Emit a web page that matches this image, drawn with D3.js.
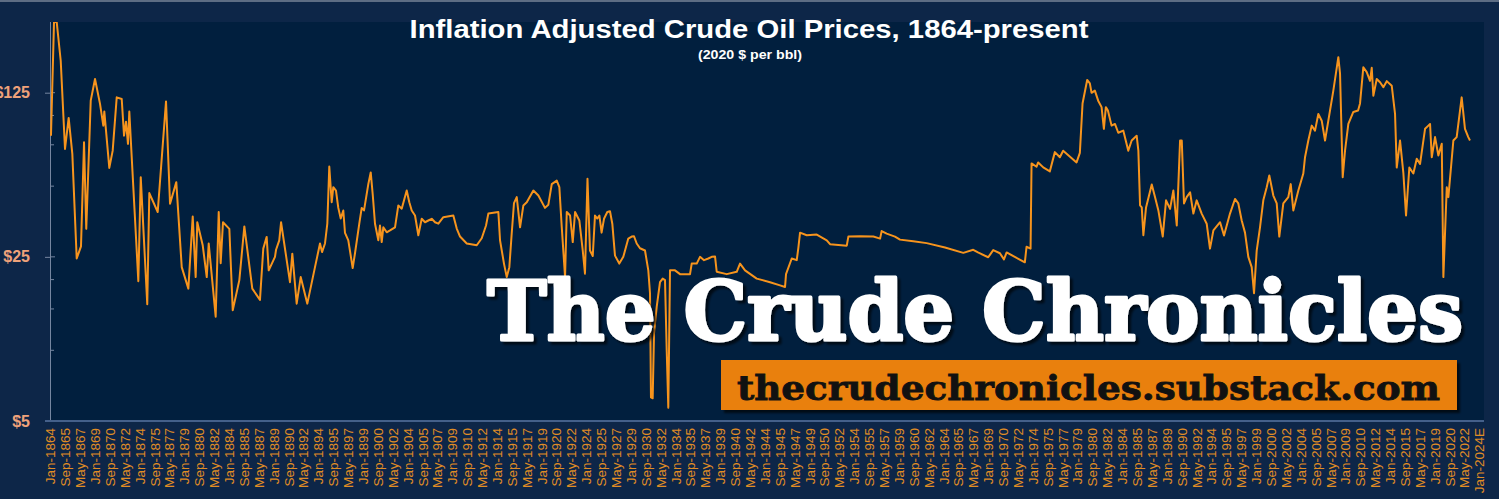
<!DOCTYPE html>
<html lang="en">

<head>
    <meta charset="utf-8">
    <title>Inflation Adjusted Crude Oil Prices</title>
    <script src="https://d3js.org/d3.v7.min.js"></script>
</head>
<style type="text/css">
    body {
        margin: 0;
        background: #0d2648;
    }

    .xlabel text {
        fill: #e08d25;
        font-family: "Liberation Sans", Arial, sans-serif;
        font-size: 13.5px;
    }

    .ylabel text {
        fill: #efa27a;
        font-family: "Liberation Sans", Arial, sans-serif;
        font-size: 16px;
        font-weight: bold;
    }

    .price {
        fill: none;
        stroke: #f7941d;
        stroke-width: 2px;
        stroke-linejoin: round;
    }
</style>

<body>
    <script>
        var width = 1499,
            height = 499;

        var margin = {left: 50, right: 15, top: 22, bottom: 78};

        var years = [
            1864.11, 1864.45, 1864.75, 1865.20, 1865.68, 1866.09, 1866.50, 1866.99, 1867.47, 1867.81,
            1868.06, 1868.56, 1869.04, 1869.60, 1869.97, 1870.08, 1870.64, 1871.02, 1871.47, 1872.03,
            1872.29, 1872.51, 1872.73, 1872.88, 1873.15, 1873.89, 1874.16, 1874.89, 1875.12, 1876.06,
            1876.99, 1877.44, 1878.14, 1878.75, 1879.49, 1879.98, 1880.31, 1880.49, 1881.10, 1881.55,
            1881.77, 1882.55, 1882.89, 1883.11, 1883.37, 1884.08, 1884.46, 1885.20, 1885.76, 1886.65,
            1887.51, 1887.88, 1888.26, 1888.49, 1889.19, 1889.31, 1889.67, 1889.87, 1890.87, 1891.13,
            1891.62, 1892.07, 1892.81, 1893.67, 1894.23, 1894.46, 1894.79, 1895.05, 1895.27, 1895.54,
            1895.72, 1896.02, 1896.28, 1896.55, 1896.84, 1897.03, 1897.40, 1897.89, 1898.15, 1898.63,
            1898.90, 1899.16, 1899.64, 1899.91, 1900.13, 1900.39, 1900.76, 1900.95, 1901.14, 1901.32,
            1901.70, 1902.07, 1902.63, 1903.00, 1903.38, 1903.94, 1904.23, 1904.50, 1904.87, 1905.24,
            1905.62, 1905.99, 1906.36, 1906.74, 1907.11, 1907.48, 1908.04, 1909.16, 1909.54, 1909.91,
            1910.66, 1911.78, 1912.34, 1912.82, 1913.08, 1913.46, 1914.20, 1914.39, 1914.83, 1915.14,
            1915.43, 1915.70, 1915.95, 1916.26, 1916.63, 1917.00, 1917.38, 1918.12, 1918.68, 1919.42,
            1919.80, 1920.18, 1920.74, 1921.03, 1921.30, 1921.67, 1921.86, 1922.23, 1922.53, 1922.79,
            1923.27, 1923.65, 1923.90, 1924.18, 1924.46, 1924.77, 1925.02, 1925.28, 1925.51, 1925.76,
            1926.03, 1926.40, 1926.70, 1926.96, 1927.26, 1927.74, 1928.19, 1928.75, 1929.13, 1929.39,
            1929.69, 1930.06, 1930.62, 1930.99, 1931.18, 1931.29, 1931.48, 1931.63, 1931.93, 1932.30,
            1932.60, 1932.86, 1933.05, 1933.23, 1933.42, 1933.98, 1934.54, 1935.66, 1935.85, 1936.41,
            1936.78, 1937.23, 1937.71, 1938.09, 1938.46, 1938.65, 1939.77, 1940.89, 1941.26, 1941.82,
            1943.13, 1944.62, 1945.74, 1946.30, 1946.41, 1947.05, 1947.61, 1947.79, 1947.98, 1948.73,
            1949.85, 1950.97, 1951.34, 1953.21, 1953.39, 1954.70, 1956.19, 1956.94, 1957.12, 1957.68,
            1958.61, 1959.17, 1960.66, 1962.16, 1964.21, 1966.26, 1967.37, 1967.90, 1969.05, 1969.61,
            1970.36, 1970.81, 1971.11, 1973.15, 1973.34, 1973.79, 1973.90, 1974.46, 1974.64, 1975.21,
            1975.95, 1976.51, 1977.07, 1977.44, 1978.94, 1979.31, 1979.61, 1980.13, 1980.43, 1980.62,
            1980.99, 1981.36, 1981.74, 1982.00, 1982.22, 1982.45, 1982.86, 1983.24, 1983.61, 1984.17,
            1984.73, 1985.11, 1985.67, 1985.86, 1986.05, 1986.24, 1986.42, 1986.72, 1987.36, 1987.73,
            1988.10, 1988.59, 1988.96, 1989.41, 1989.78, 1990.16, 1990.53, 1990.72, 1990.97, 1991.27,
            1991.65, 1992.02, 1992.39, 1992.95, 1993.51, 1993.88, 1994.26, 1995.01, 1995.45, 1996.12,
            1996.68, 1997.05, 1997.43, 1997.80, 1998.17, 1998.55, 1998.81, 1999.11, 1999.48, 1999.85,
            2000.23, 2000.52, 2000.97, 2001.35, 2001.64, 2002.09, 2002.65, 2002.92, 2003.21, 2003.77,
            2004.33, 2004.52, 2004.89, 2005.27, 2005.64, 2006.01, 2006.39, 2006.76, 2007.13, 2007.69,
            2008.25, 2008.44, 2008.74, 2009.00, 2009.37, 2009.93, 2010.46, 2010.68, 2011.05, 2011.43,
            2011.80, 2011.99, 2012.17, 2012.55, 2012.92, 2013.29, 2013.67, 2014.23, 2014.60, 2014.79,
            2015.16, 2015.53, 2015.83, 2016.20, 2016.65, 2017.03, 2017.40, 2017.96, 2018.33, 2018.52,
            2018.71, 2019.08, 2019.45, 2019.83, 2020.01, 2020.39, 2020.57, 2021.13, 2021.50, 2022.06,
            2022.43, 2022.80, 2022.99
        ];

        var prices = [
            82, 250, 250, 171, 72, 97.6, 68.6, 24.6, 27.7, 76.9,
            32.9, 115.6, 143, 112, 90.5, 104, 59.8, 70.8, 119.4, 117.5,
            82, 94.1, 75.7, 104, 66.4, 19.7, 54.6, 15.7, 46.7, 38.8,
            114.8, 42.1, 52, 22.6, 18.3, 37.1, 20.5, 35.1, 28, 20.5,
            28.5, 13.9, 38.8, 23.5, 35.1, 32.9, 14.8, 19.9, 33.7, 18.3,
            16.4, 27.1, 30.4, 21.9, 25, 26.8, 29.4, 35.1, 19.5, 25.8,
            15.8, 20.5, 15.8, 22.6, 28.5, 26.2, 28.5, 34.6, 60.6, 42.7,
            49.5, 47.9, 40.4, 36.4, 39.4, 31.6, 29.4, 22.4, 25.9, 34.6,
            40.4, 39.4, 51, 57.2, 46.3, 34.6, 29.4, 34, 28.9, 33.4,
            31.8, 32.4, 33.4, 41.4, 40.1, 47.9, 42.7, 39.4, 37.5, 30.9,
            36.3, 35.1, 35.7, 36.3, 35.1, 34.6, 36.9, 37.5, 33, 30.5,
            28.5, 28, 30, 34, 38.2, 38.4, 38.8, 29.4, 23.4, 20.5,
            22.6, 31.6, 42.3, 44.9, 33.4, 41.4, 42.7, 47.9, 45.6, 40.4,
            41.7, 51, 52.8, 49.5, 33.4, 20.5, 38.8, 37.5, 28.9, 38.8,
            35.7, 26.6, 21.2, 53.8, 26.6, 25.2, 37.5, 36.4, 37.5, 31.7,
            36.3, 38.8, 39.1, 34.6, 25.3, 23.4, 25, 29.9, 30.5, 30.6,
            28.5, 27.2, 26.6, 21.9, 17.5, 6.3, 6.25, 11.8, 15.3, 19.5,
            20.2, 19.9, 10, 5.7, 21.9, 21.9, 21.1, 21.1, 23.4, 23.4,
            25, 24.2, 24.6, 25, 25.1, 21.6, 21.1, 21.6, 23.4, 21.9,
            20.2, 19.5, 18.9, 18.6, 21.1, 24.6, 24.2, 27.3, 31.7, 30.9,
            31.1, 29.4, 28.3, 27.9, 30.5, 30.6, 30.5, 29.9, 32.2, 31.4,
            30.5, 29.6, 29.1, 28.6, 27.4, 26, 26.8, 26.1, 24.9, 26.7,
            25.9, 24.4, 26.1, 23.7, 27.6, 27.1, 62.5, 60.5, 63.1, 60.1,
            57.8, 69.8, 66.4, 70.8, 63.1, 69.3, 112.5, 141.6, 137, 124.8,
            127.5, 115.6, 108.5, 87.7, 108.5, 105, 90.5, 92, 84.4, 86.2,
            70.8, 78.2, 82, 70.8, 41.4, 40.6, 30.9, 40.6, 50.8, 44.8,
            39.4, 30.5, 43.5, 40, 47.9, 34, 78.2, 78.2, 42.2, 44.9,
            47.1, 38.2, 43.5, 38.2, 34.6, 27.1, 32.4, 35.1, 30.8, 38.2,
            44.1, 42.2, 35.7, 31.7, 25, 22.6, 17.5, 26.6, 33.4, 43.5,
            49.5, 55.5, 45.6, 42.2, 30.5, 42.2, 44.9, 51, 39.4, 47.9,
            56.6, 66.4, 78.2, 90.5, 86.2, 101.5, 95, 78.2, 95, 127.5,
            177, 151, 54.6, 70.8, 92, 103.5, 105, 112.5, 160.5, 153,
            140.5, 159.5, 121.4, 143, 138.5, 132, 140, 133.8, 101.5, 60,
            78.2, 57, 37.5, 60, 56.6, 65.4, 62.2, 87.7, 90.5, 92,
            66.4, 80.9, 67.5, 75.8, 20.5, 49.5, 44.9, 78.2, 80.9, 119.4,
            87.7, 80.9, 78.2
        ];

        var xTickLabels = [
            "Jan-1864", "Sep-1865", "May-1867", "Jan-1869", "Sep-1870", "May-1872", "Jan-1874", "Sep-1875", "May-1877",
            "Jan-1879", "Sep-1880", "May-1882", "Jan-1884", "Sep-1885", "May-1887", "Jan-1889", "Sep-1890", "May-1892",
            "Jan-1894", "Sep-1895", "May-1897", "Jan-1899", "Sep-1900", "May-1902", "Jan-1904", "Sep-1905", "May-1907",
            "Jan-1909", "Sep-1910", "May-1912", "Jan-1914", "Sep-1915", "May-1917", "Jan-1919", "Sep-1920", "May-1922",
            "Jan-1924", "Sep-1925", "May-1927", "Jan-1929", "Sep-1930", "May-1932", "Jan-1934", "Sep-1935", "May-1937",
            "Jan-1939", "Sep-1940", "May-1942", "Jan-1944", "Sep-1945", "May-1947", "Jan-1949", "Sep-1950", "May-1952",
            "Jan-1954", "Sep-1955", "May-1957", "Jan-1959", "Sep-1960", "May-1962", "Jan-1964", "Sep-1965", "May-1967",
            "Jan-1969", "Sep-1970", "May-1972", "Jan-1974", "Sep-1975", "May-1977", "Jan-1979", "Sep-1980", "May-1982",
            "Jan-1984", "Sep-1985", "May-1987", "Jan-1989", "Sep-1990", "May-1992", "Jan-1994", "Sep-1995", "May-1997",
            "Jan-1999", "Sep-2000", "May-2002", "Jan-2004", "Sep-2005", "May-2007", "Jan-2009", "Sep-2010", "May-2012",
            "Jan-2014", "Sep-2015", "May-2017", "Jan-2019", "Sep-2020", "May-2022", "Jan-2024E"
        ];

        var yMajorTicks = [5, 25, 125];
        var yMinorTicks = [10, 15, 20, 50, 75, 100];

        var data = years.map(function(t, i) {
            return {t: t, v: prices[i]};
        });

        // labels sit every 20 months starting Jan-1864
        var tickYears = xTickLabels.map(function(d, i) {
            return 1864 + i * 20 / 12;
        });

        //Scales

        var x = d3.scaleLinear()
            .domain([1864, 2024])
            .range([margin.left, 1479]);

        var y = d3.scaleLog()
            .domain([5, 250])
            .range([height - margin.bottom, margin.top]);

        var svg = d3.select("body").append("svg")
            .attr("width", width)
            .attr("height", height)
            .style("display", "block");

        var defs = svg.append("defs");

        defs.append("clipPath")
            .attr("id", "plotclip")
            .append("rect")
            .attr("x", margin.left)
            .attr("y", margin.top)
            .attr("width", width - margin.right - margin.left)
            .attr("height", height - margin.bottom - margin.top);

        defs.append("filter")
            .attr("id", "shadow")
            .attr("x", "-5%")
            .attr("y", "-20%")
            .attr("width", "110%")
            .attr("height", "140%")
            .append("feDropShadow")
            .attr("dx", 3)
            .attr("dy", 3)
            .attr("stdDeviation", 1.2)
            .attr("flood-color", "#000000")
            .attr("flood-opacity", 0.65);

        //Backgrounds

        svg.append("rect")
            .attr("width", width)
            .attr("height", height)
            .attr("fill", "#0d2648");

        svg.append("rect")
            .attr("width", width)
            .attr("height", 2)
            .attr("fill", "#5d6d84");

        svg.append("rect")
            .attr("x", margin.left)
            .attr("y", margin.top)
            .attr("width", width - margin.right - margin.left)
            .attr("height", height - margin.bottom - margin.top)
            .attr("fill", "#011f3e");

        //Title

        svg.append("text")
            .attr("x", 749)
            .attr("y", 38)
            .attr("text-anchor", "middle")
            .attr("textLength", 679)
            .attr("lengthAdjust", "spacingAndGlyphs")
            .style("font-family", "'Liberation Sans', Arial, sans-serif")
            .style("font-weight", "bold")
            .style("font-size", "25px")
            .style("fill", "#ffffff")
            .text("Inflation Adjusted Crude Oil Prices, 1864-present");

        svg.append("text")
            .attr("x", 750)
            .attr("y", 59)
            .attr("text-anchor", "middle")
            .attr("textLength", 104)
            .attr("lengthAdjust", "spacingAndGlyphs")
            .style("font-family", "'Liberation Sans', Arial, sans-serif")
            .style("font-weight", "bold")
            .style("font-size", "12px")
            .style("fill", "#ffffff")
            .text("(2020 $ per bbl)");

        //Y axis

        var yAxis = svg.append("g")
            .attr("class", "ylabel")
            .attr("transform", "translate(" + margin.left + ",0)")
            .call(d3.axisLeft(y)
                .tickValues(yMajorTicks)
                .tickSize(5)
                .tickPadding(15)
                .tickFormat(function(d) {
                    return "$" + d;
                }));
        yAxis.select(".domain").remove();
        yAxis.selectAll("line").attr("stroke", "#7586a0");

        svg.selectAll("line.yinner")
            .data(yMajorTicks.concat(yMinorTicks))
            .enter().append("line")
            .attr("class", "yinner")
            .attr("x1", margin.left)
            .attr("x2", function(d) {
                return yMajorTicks.indexOf(d) >= 0 ? margin.left + 5 : margin.left + 4;
            })
            .attr("y1", function(d) { return y(d); })
            .attr("y2", function(d) { return y(d); })
            .attr("stroke", "#7586a0");

        svg.append("line")
            .attr("x1", margin.left + 0.5)
            .attr("x2", margin.left + 0.5)
            .attr("y1", margin.top)
            .attr("y2", height - margin.bottom)
            .attr("stroke", "#7586a0");

        //X axis

        var xAxis = svg.append("g")
            .attr("class", "xlabel")
            .attr("transform", "translate(0," + (height - margin.bottom) + ")")
            .call(d3.axisBottom(x)
                .tickValues(tickYears)
                .tickSize(0)
                .tickFormat(function(d, i) {
                    return xTickLabels[i];
                }));
        xAxis.select(".domain").remove();
        xAxis.selectAll("text")
            .attr("transform", "rotate(-90)")
            .attr("x", -7)
            .attr("y", 0)
            .attr("dy", "0.36em")
            .style("text-anchor", "end");

        svg.append("line")
            .attr("x1", 45)
            .attr("x2", width - margin.right)
            .attr("y1", height - margin.bottom)
            .attr("y2", height - margin.bottom)
            .attr("stroke", "#44608a")
            .attr("stroke-width", 2);

        //Price line

        var line = d3.line()
            .x(function(d) { return x(d.t); })
            .y(function(d) { return y(d.v); });

        svg.append("path")
            .datum(data)
            .attr("class", "price")
            .attr("clip-path", "url(#plotclip)")
            .attr("d", line);

        //Banner over the chart

        var banner = svg.append("g");

        banner.append("text")
            .attr("x", 487)
            .attr("y", 340)
            .attr("textLength", 976)
            .attr("lengthAdjust", "spacingAndGlyphs")
            .attr("filter", "url(#shadow)")
            .style("font-family", "'DejaVu Serif', serif")
            .style("font-weight", "bold")
            .style("font-size", "82px")
            .style("fill", "#ffffff")
            .style("stroke", "#ffffff")
            .style("stroke-width", "3px")
            .style("stroke-linejoin", "round")
            .text("The Crude Chronicles");

        banner.append("rect")
            .attr("x", 721)
            .attr("y", 360)
            .attr("width", 736)
            .attr("height", 50)
            .attr("fill", "#e9800a")
            .attr("filter", "url(#shadow)");

        banner.append("text")
            .attr("x", 737)
            .attr("y", 400)
            .attr("textLength", 703)
            .attr("lengthAdjust", "spacingAndGlyphs")
            .style("font-family", "'DejaVu Serif', serif")
            .style("font-weight", "bold")
            .style("font-size", "34px")
            .style("fill", "#111111")
            .style("stroke", "#111111")
            .style("stroke-width", "0.8px")
            .text("thecrudechronicles.substack.com");
    </script>
</body>

</html>
